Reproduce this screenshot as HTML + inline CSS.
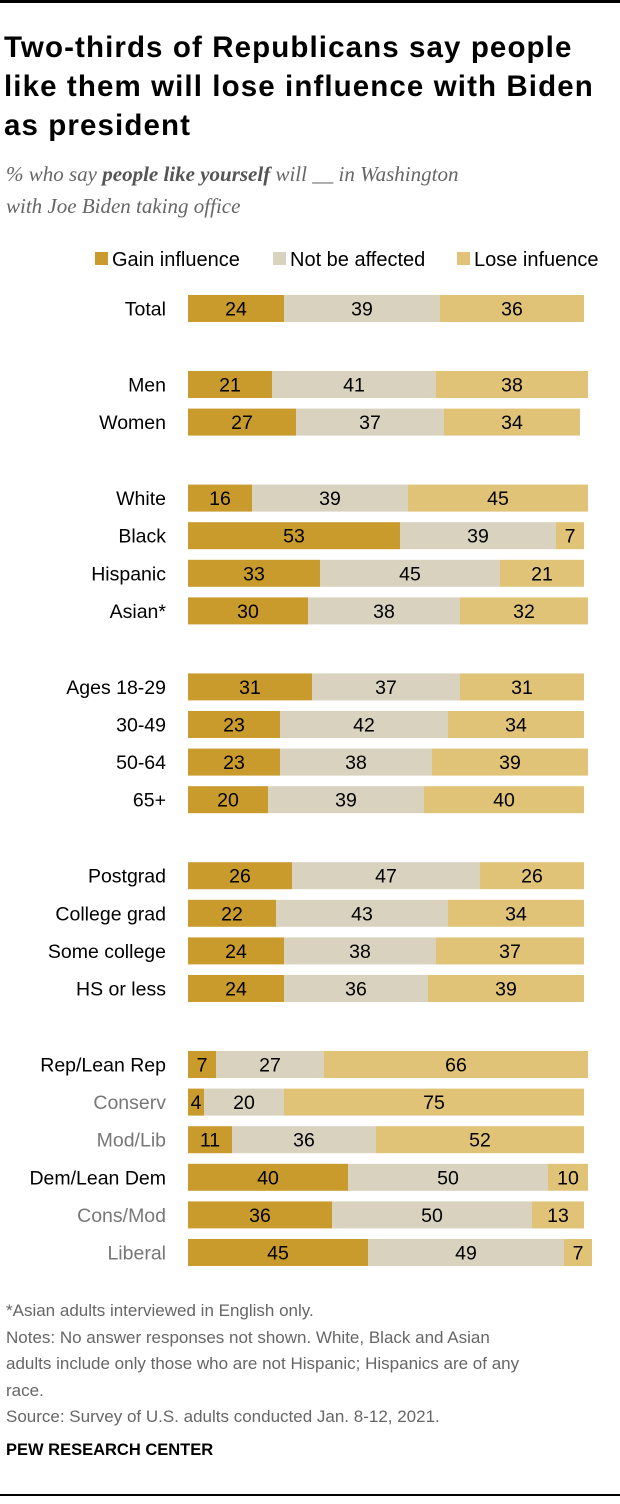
<!DOCTYPE html>
<html><head><meta charset="utf-8"><style>
body{margin:0;background:#fff;width:620px;height:1504px;position:relative;font-family:"Liberation Sans",Arial,sans-serif;overflow:hidden}
.t{position:absolute;left:0;top:0;width:620px;height:3px;background:#000}
h1{position:absolute;left:4px;top:28px;margin:0;font-size:29.5px;line-height:39px;font-weight:bold;color:#000;width:616px;letter-spacing:1.1px;white-space:nowrap}
.sub{position:absolute;left:6px;top:158px;font-family:"Liberation Serif",serif;font-style:italic;font-size:21px;line-height:32px;color:#666}
.sub b{color:#555}
.notes{position:absolute;left:6px;top:1298px;font-size:17px;line-height:26.5px;color:#666}
.pew{position:absolute;left:6px;top:1441px;font-size:16.5px;font-weight:bold;color:#000}
.bot{position:absolute;left:0;top:1494px;width:620px;height:2px;background:#000}
</style></head><body>
<div class="t"></div>
<h1>Two-thirds of Republicans say people<br>like them will lose influence with Biden<br>as president</h1>
<div class="sub">% who say <b>people like yourself</b> will __ in Washington<br>with Joe Biden taking office</div>
<svg id="c" width="620" height="1290" style="position:absolute;left:0;top:0"></svg>
<div class="notes">*Asian adults interviewed in English only.<br>Notes: No answer responses not shown. White, Black and Asian<br>adults include only those who are not Hispanic; Hispanics are of any<br>race.<br>Source: Survey of U.S. adults conducted Jan. 8-12, 2021.</div>
<div class="pew">PEW RESEARCH CENTER</div>
<div class="bot"></div>
<script>
const categories=["Total","Men","Women","White","Black","Hispanic","Asian*","Ages 18-29","30-49","50-64","65+","Postgrad","College grad","Some college","HS or less","Rep/Lean Rep","Conserv","Mod/Lib","Dem/Lean Dem","Cons/Mod","Liberal"];
const gain=[24,21,27,16,53,33,30,31,23,23,20,26,22,24,24,7,4,11,40,36,45];
const notAffected=[39,41,37,39,39,45,38,37,42,38,39,47,43,38,36,27,20,36,50,50,49];
const lose=[36,38,34,45,7,21,32,31,34,39,40,26,34,37,39,66,75,52,10,13,7];
const groupBreaks=[0,1,0,1,0,0,0,1,0,0,0,1,0,0,0,1,0,0,0,0,0];
const subRows=[16,17,19,20];
const series=[{name:"Gain influence",vals:gain,col:"#c99b2c"},{name:"Not be affected",vals:notAffected,col:"#d8d2bf"},{name:"Lose infuence",vals:lose,col:"#e0c377"}];
const NS="http://www.w3.org/2000/svg",svg=document.getElementById('c');
const x0=188,ppu=4,bh=27;
const xs=v=>v*ppu;
function mk(t,a,txt){const e=document.createElementNS(NS,t);for(const k in a)e.setAttribute(k,a[k]);if(txt!=null)e.textContent=txt;svg.appendChild(e);return e;}
const lx=[95,273,457];
series.forEach((s,i)=>{
 const r=mk('rect',{x:lx[i],y:252,width:13,height:13,fill:s.col});
 
 
 const t=mk('text',{x:lx[i]+17,y:266,'font-size':20,fill:'#000'},s.name);
 
 
});
let y=295;
categories.forEach((c,i)=>{
 if(i>0) y+= groupBreaks[i]?76:37.6;
 const sub=subRows.includes(i);
 const lab=mk('text',{x:166,y:y+bh/2+7,'text-anchor':'end','font-size':19.5,fill:sub?'#777':'#000'},c);
 
 
 let cx=x0;
 series.forEach((s,k)=>{
  const w=xs(s.vals[i]);
  const r=mk('rect',{x:cx,y:y,width:w,height:bh,fill:s.col});
  
  
  const t=mk('text',{x:cx+w/2,y:y+bh/2+7,'text-anchor':'middle','font-size':19.5,fill:'#000'},s.vals[i]);
  
  
  cx+=w;
 });
});
</script>
</body></html>
